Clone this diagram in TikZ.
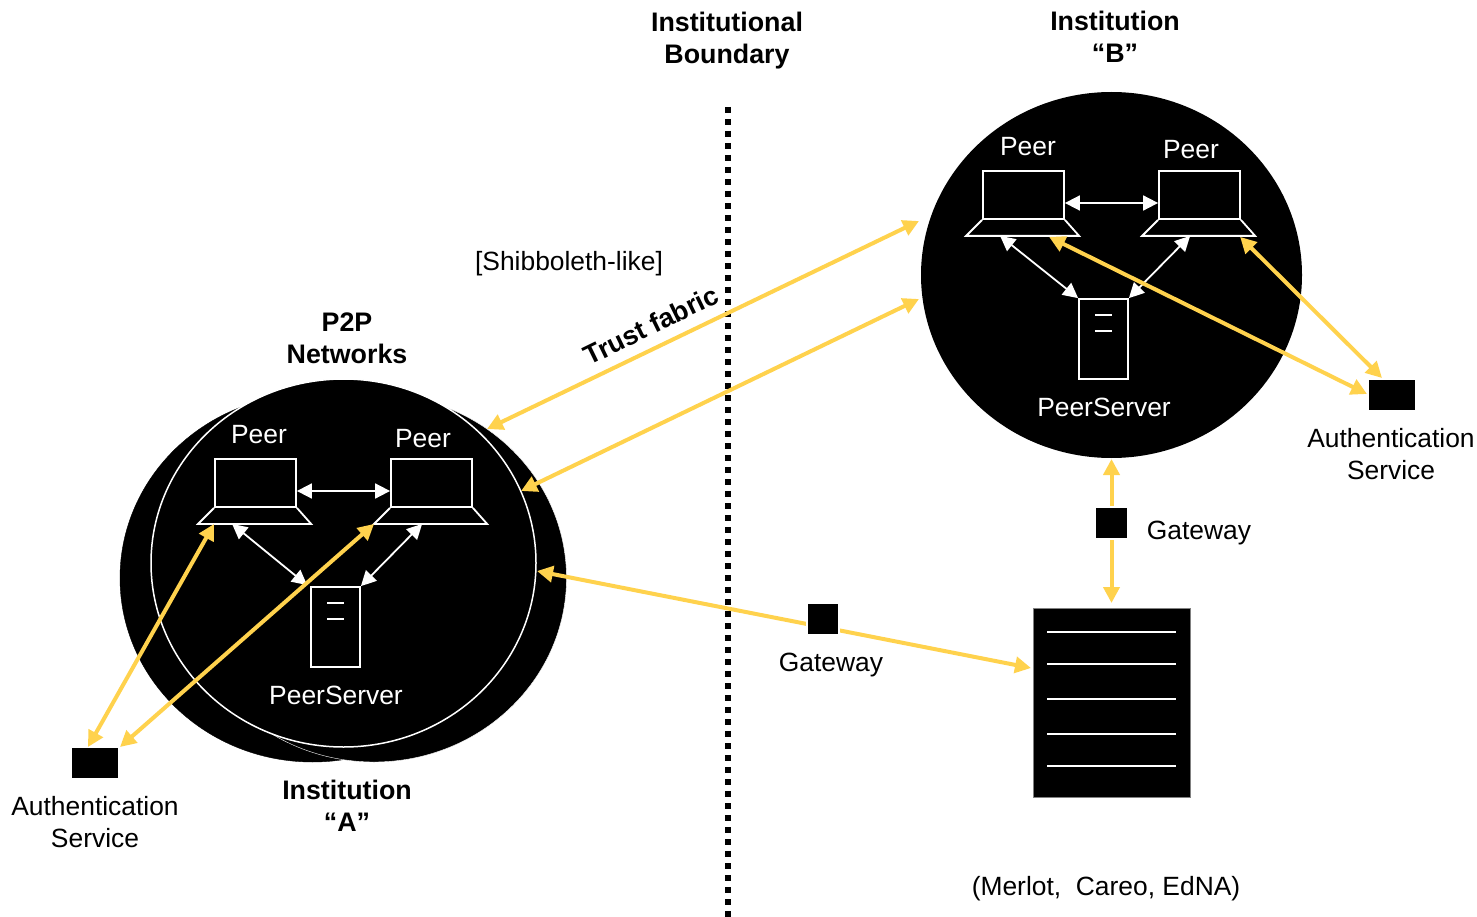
\documentclass[tikz,border=0pt]{standalone}
\usepackage{fontspec}
\setmainfont{Liberation Sans}
\usetikzlibrary{arrows.meta, shapes.geometric}
\definecolor{gold}{HTML}{FFD24D}

\begin{document}
\begin{tikzpicture}[x=1pt, y=-1pt, font=\fontsize{26.4}{32}\selectfont,
    label node/.style={align=center, inner sep=0pt},
    bold node/.style={label node, font=\fontsize{26.8}{32}\selectfont\bfseries},
    white node/.style={label node, text=white},
    net node/.style={ellipse, fill=black, inner sep=0pt, minimum width=385pt, minimum height=368pt},
    screen node/.style={rectangle, draw=white, line width=1.8pt, fill=black, inner sep=0pt, minimum width=81pt, minimum height=48pt},
    server node/.style={rectangle, draw=white, line width=1.8pt, fill=black, inner sep=0pt, minimum width=49pt, minimum height=80pt},
    auth node/.style={rectangle, fill=black, inner sep=0pt, minimum width=46pt, minimum height=30pt},
    gate node/.style={rectangle, draw=white, line width=1.5pt, fill=black, inner sep=0pt, minimum width=32pt, minimum height=32pt},
    white arrow/.style={{Triangle[length=15pt,width=15pt]}-{Triangle[length=15pt,width=15pt]}, white, line width=1.8pt},
    gold arrow/.style={{Triangle[length=16pt,width=16pt]}-{Triangle[length=16pt,width=16pt]}, gold, line width=4pt},
    base line/.style={white, line width=1.8pt, line join=miter},
    tick line/.style={white, line width=1.8pt}]
\useasboundingbox (0,0) rectangle (1477,917);

\coordinate (boundTop) at (727.5,107);
\coordinate (boundBot) at (727.5,917);
\draw[line width=6pt, dash pattern=on 6pt off 6pt] (boundTop) -- (boundBot);

\node[net node, draw=black] (instAl) at (312.5,578) {};
\node[net node, draw=white] (instAr) at (374,578) {};
\node[net node, draw=white, line width=1.5pt] (netA) at (343.5,563) {};
\node[net node, minimum width=381pt, minimum height=366pt] (netB) at (1111.5,275) {};

\node[white node] (peerAlab) at (259,435) {Peer};
\node[white node] (peerAtwolab) at (423,439) {Peer};
\node[screen node] (screenA) at (255.5,483) {};
\draw[base line] (screenA.south west) -- ++(-16,16) coordinate (baseAl) -- ++(113,0) coordinate (baseAr) -- (screenA.south east);
\node[screen node] (screenAtwo) at (431.5,483) {};
\draw[base line] (screenAtwo.south west) -- ++(-16,16) coordinate (baseAtwol) -- ++(113,0) coordinate (baseAtwor) -- (screenAtwo.south east);
\node[server node] (serverA) at (335.5,627) {};
\draw[tick line] (327,603) coordinate (tickAa) -- (344,603) coordinate (tickAb);
\draw[tick line] (327,619) coordinate (tickAc) -- (344,619) coordinate (tickAd);
\node[white node] (serverAlab) at (336,695) {PeerServer};

\node[white node] (peerBlab) at (1028,147) {Peer};
\node[white node] (peerBtwolab) at (1191,150) {Peer};
\node[screen node] (screenB) at (1023.5,195) {};
\draw[base line] (screenB.south west) -- ++(-16,16) coordinate (baseBl) -- ++(113,0) coordinate (baseBr) -- (screenB.south east);
\node[screen node] (screenBtwo) at (1199.5,195) {};
\draw[base line] (screenBtwo.south west) -- ++(-16,16) coordinate (baseBtwol) -- ++(113,0) coordinate (baseBtwor) -- (screenBtwo.south east);
\node[server node] (serverB) at (1103.5,339) {};
\draw[tick line] (1095,315) coordinate (tickBa) -- (1112,315) coordinate (tickBb);
\draw[tick line] (1095,331) coordinate (tickBc) -- (1112,331) coordinate (tickBd);
\node[white node] (serverBlab) at (1104,407) {PeerServer};

\draw[white arrow] ([yshift=-8pt]screenA.east) -- ([yshift=-8pt]screenAtwo.west);
\draw[white arrow] ([xshift=34pt]baseAl) -- ([xshift=-3pt,yshift=1pt]serverA.north west);
\draw[white arrow] ([xshift=48pt]baseAtwol) -- (serverA.north east);
\draw[white arrow] ([yshift=-8pt]screenB.east) -- ([yshift=-8pt]screenBtwo.west);
\draw[white arrow] ([xshift=34pt]baseBl) -- (serverB.north west);
\draw[white arrow] ([xshift=48pt]baseBtwol) -- (serverB.north east);

\node[auth node] (authA) at (95,763) {};
\node[auth node] (authB) at (1392,395) {};
\node[label node] (authAlab) at (95,822) {Authentication\\Service};
\node[label node] (authBlab) at (1391,454) {Authentication\\Service};

\node[rectangle, draw=gray, fill=black, inner sep=0pt, minimum width=157pt, minimum height=189pt] (store) at (1111.5,702.5) {};
\draw[tick line] (1047,632) coordinate (shelfAa) -- (1176,632) coordinate (shelfAb);
\draw[tick line] (1047,664) coordinate (shelfBa) -- (1176,664) coordinate (shelfBb);
\draw[tick line] (1047,699) coordinate (shelfCa) -- (1176,699) coordinate (shelfCb);
\draw[tick line] (1047,734) coordinate (shelfDa) -- (1176,734) coordinate (shelfDb);
\draw[tick line] (1047,766) coordinate (shelfEa) -- (1176,766) coordinate (shelfEb);

\coordinate (trustAa) at (487,429);
\coordinate (trustAb) at (521,491);
\coordinate (trustBa) at (919,221);
\coordinate (trustBb) at (919,299);
\coordinate (gateAend) at (537,571);
\coordinate (storeLeft) at (1031,668);
\coordinate (netBbot) at (1111.5,459);
\coordinate (storeTop) at (1111.5,603);
\coordinate (authAa) at (88,747);
\coordinate (authAb) at (120,747);
\coordinate (authBa) at (1367,394);
\coordinate (authBb) at (1382,378);

\draw[gold arrow] (trustAa) -- (trustBa);
\draw[gold arrow] (trustAb) -- (trustBb);
\draw[gold arrow] (gateAend) -- (storeLeft);
\draw[gold arrow] (netBbot) -- (storeTop);
\draw[gold arrow] ([xshift=16pt]baseAl) -- (authAa);
\draw[gold arrow] (authAb) -- (baseAtwol);
\draw[gold arrow] ([xshift=83pt,yshift=-1pt]baseBl) -- (authBa);
\draw[gold arrow] ([xshift=98pt,yshift=-1pt]baseBtwol) -- (authBb);

\node[gate node] (gateA) at (823,619) {};
\node[gate node] (gateB) at (1111.5,523) {};
\node[label node] (gateAlab) at (831,665) {Gateway};
\node[label node] (gateBlab) at (1199,533) {Gateway};

\node[bold node] (boundLab) at (727,40.5) {Institutional\\Boundary};
\node[bold node] (instBlab) at (1115,37) {Institution\\“B”};
\node[bold node] (netAlab) at (347,338.5) {P2P\\Networks};
\node[bold node] (instAlab) at (347,806) {Institution\\“A”};
\node[label node] (shibLab) at (569,264) {[Shibboleth-like]};
\node[bold node, rotate=26] (trustLab) at (651,325) {Trust fabric};
\node[label node] (merlotLab) at (1106,889) {(Merlot,\ \ Careo, EdNA)};
\end{tikzpicture}
\end{document}
